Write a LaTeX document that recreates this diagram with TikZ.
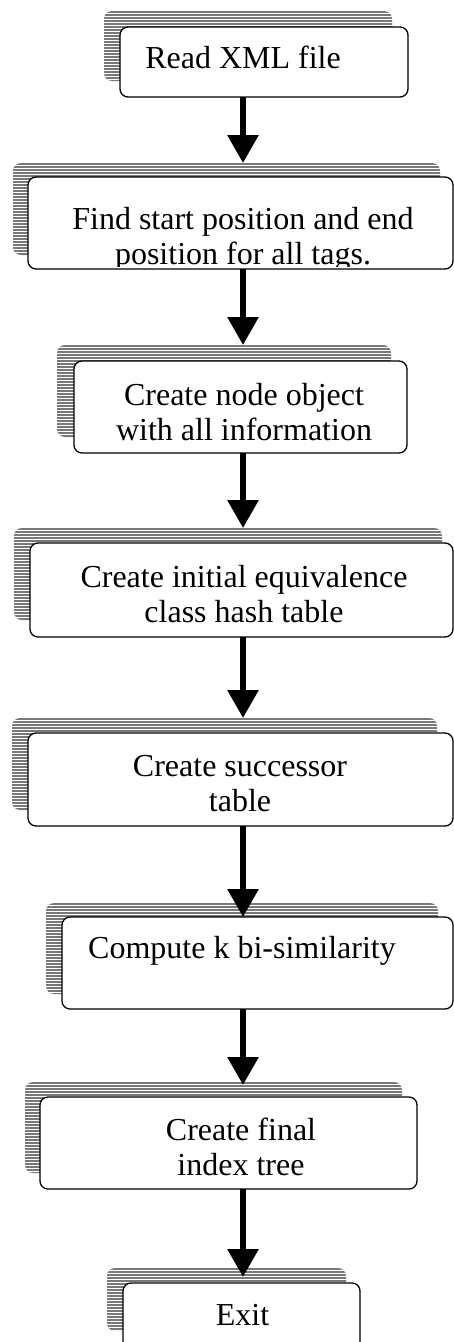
\documentclass[tikz,border=0pt]{standalone}
\usepackage{fontspec}
\setmainfont{Liberation Serif}
\usetikzlibrary{arrows.meta}
\definecolor{shadowgray}{RGB}{120,120,120}
\begin{document}
\begin{tikzpicture}[x=1pt,y=-1pt,
  stepbox/.style={draw=black, line width=1.3pt, rounded corners=8pt, fill=white,
    inner sep=0pt, outer sep=0pt, anchor=north west},
  hatchshadow/.style={fill=shadowgray, rounded corners=8pt, inner sep=0pt, outer sep=0pt,
    anchor=north west,
    path picture={\foreach \k in {0,...,40}{
      \draw[white, line width=0.5pt] ([yshift=-\k*3pt-2.5pt]path picture bounding box.north west) -- ++(600,0);}}},
  steptext/.style={font=\fontsize{32}{35}\selectfont, align=center, inner sep=0pt, anchor=base},
  flow/.style={line width=6pt, -{Triangle[width=30pt,length=28pt]}}
]
\useasboundingbox (0,0) rectangle (454,1342);
\clip (0,0) rectangle (454,1342);

% shadows behind the boxes
\node[hatchshadow, minimum width=288, minimum height=70] (s1) at (104,11) {};
\node[hatchshadow, minimum width=427, minimum height=92] (s2) at (13,163) {};
\node[hatchshadow, minimum width=334, minimum height=92] (s3) at (57,345) {};
\node[hatchshadow, minimum width=428, minimum height=92] (s4) at (14,528) {};
\node[hatchshadow, minimum width=425, minimum height=92] (s5) at (12,718) {};
\node[hatchshadow, minimum width=392, minimum height=91] (s6) at (46,903) {};
\node[hatchshadow, minimum width=377, minimum height=91] (s7) at (25,1082) {};
\node[hatchshadow, minimum width=239, minimum height=63] (s8) at (107,1268) {};

% process boxes
\node[stepbox, minimum width=288, minimum height=70] (b1) at (120,27) {};
\node[stepbox, minimum width=425, minimum height=92] (b2) at (28,177) {};
\node[stepbox, minimum width=333, minimum height=92] (b3) at (74,361) {};
\node[stepbox, minimum width=423, minimum height=94] (b4) at (30,543) {};
\node[stepbox, minimum width=425, minimum height=93] (b5) at (28,733) {};
\node[stepbox, minimum width=391, minimum height=92] (b6) at (62,917) {};
\node[stepbox, minimum width=377, minimum height=92] (b7) at (40,1097) {};
\node[stepbox, minimum width=237, minimum height=90] (b8) at (123,1283) {};

% labels (base anchor sits on the last line)
\node[steptext] (t1) at (243,68) {Read XML file};
\begin{scope}
  \clip (28,177) rectangle (453,266.5);
  \node[steptext] (t2) at (243,264) {Find start position and end\\position for all tags.};
\end{scope}
\node[steptext] (t3) at (244,440) {Create node object\\with all information};
\node[steptext] (t4) at (244,622) {Create initial equivalence\\class hash table};
\node[steptext] (t5) at (240,811) {Create successor\\table};
\node[steptext] (t6) at (242,958) {Compute k bi-similarity};
\node[steptext] (t7) at (241,1175) {Create final\\index tree};
\node[steptext] (t8) at (242.5,1325) {Exit};

% flow arrows
\coordinate (axis) at (243,0);
\draw[flow] (axis |- b1.south) -- (axis |- s2.north);
\draw[flow] (axis |- b2.south) -- (axis |- s3.north);
\draw[flow] (axis |- b3.south) -- (axis |- s4.north);
\draw[flow] (axis |- b4.south) -- (axis |- s5.north);
\draw[flow] (axis |- b5.south) -- (axis |- b6.north);
\draw[flow] (axis |- b6.south) -- ([yshift=-3pt]axis |- s7.north);
\draw[flow] (axis |- b7.south) -- ([yshift=-9pt]axis |- s8.north);
\end{tikzpicture}
\end{document}
